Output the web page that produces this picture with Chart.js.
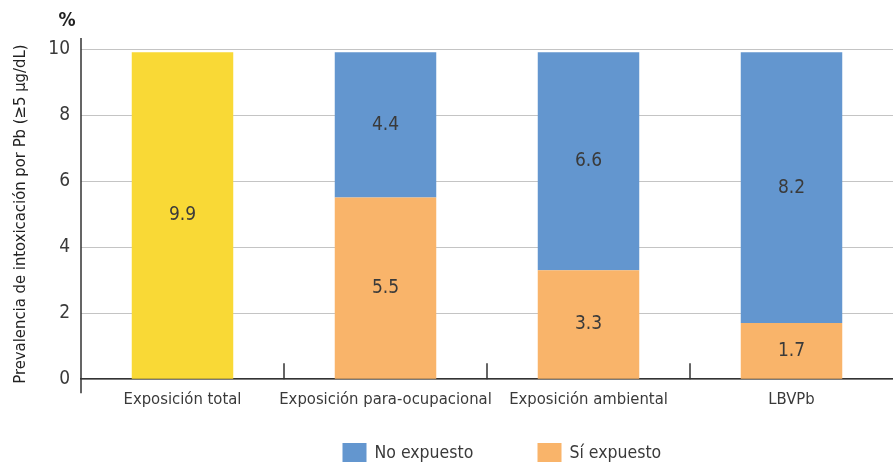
<!DOCTYPE html>
<html>
<head>
<meta charset="utf-8">
<script src="https://cdn.jsdelivr.net/npm/chart.js@4.4.1/dist/chart.umd.min.js"></script>
<style>
  html, body { margin: 0; padding: 0; background: #fff; }
  #wrap { width: 893px; height: 462px; position: relative; }
</style>
</head>
<body>
<div id="wrap"><canvas id="prevChart"></canvas></div>
<script>
// ---- data ----
const categories = ['Exposición total', 'Exposición para-ocupacional', 'Exposición ambiental', 'LBVPb'];
const totalValues = [9.9, null, null, null];
const siExpuesto = [null, 5.5, 3.3, 1.7];
const noExpuesto = [null, 4.4, 6.6, 8.2];
const yTicks = [0, 2, 4, 6, 8, 10];

const FONT = "'DejaVu Sans Condensed', 'Liberation Sans Narrow', sans-serif";
const TXT = '#3a3a3a';

// labels inside each bar segment
const barLabels = {
  id: 'barLabels',
  afterDatasetsDraw(chart) {
    const ctx = chart.ctx;
    ctx.save();
    ctx.font = '19px ' + FONT;
    ctx.fillStyle = TXT;
    ctx.textAlign = 'center';
    ctx.textBaseline = 'middle';
    chart.data.datasets.forEach((ds, i) => {
      const meta = chart.getDatasetMeta(i);
      meta.data.forEach((bar, j) => {
        const v = ds.data[j];
        if (v == null) return;
        const c = bar.getCenterPoint();
        ctx.fillText(v.toFixed(1), c.x, c.y);
      });
    });
    ctx.restore();
  }
};

// y axis line running past the plot, inner ticks between categories, "%", legend
const axisExtras = {
  id: 'axisExtras',
  afterDraw(chart) {
    const ctx = chart.ctx;
    const area = chart.chartArea;
    const xs = chart.scales.x;
    ctx.save();
    ctx.strokeStyle = '#333';
    ctx.lineWidth = 1.5;
    ctx.beginPath();
    ctx.moveTo(area.left, area.top - 11);
    ctx.lineTo(area.left, area.bottom + 14);
    for (let i = 0; i < categories.length - 1; i++) {
      const x = (xs.getPixelForTick(i) + xs.getPixelForTick(i + 1)) / 2;
      ctx.moveTo(x, area.bottom);
      ctx.lineTo(x, area.bottom - 16);
    }
    ctx.stroke();

    ctx.font = 'bold 19px ' + FONT;
    ctx.fillStyle = '#222';
    ctx.textAlign = 'center';
    ctx.textBaseline = 'alphabetic';
    ctx.fillText('%', area.left - 14, 26);

    // legend (No expuesto, Sí expuesto)
    const items = [chart.data.datasets[2], chart.data.datasets[1]];
    const offsets = [-104, 91];
    ctx.font = '17.5px ' + FONT;
    ctx.textBaseline = 'middle';
    ctx.textAlign = 'left';
    const mid = chart.width / 2, y = 443;
    items.forEach((d, k) => {
      const x = mid + offsets[k];
      ctx.fillStyle = d.backgroundColor;
      ctx.fillRect(x, y, 24, 20);
      ctx.fillStyle = TXT;
      ctx.fillText(d.label, x + 32, y + 10);
    });
    ctx.restore();
  }
};

const canvas = document.getElementById('prevChart');
new Chart(canvas.getContext('2d'), {
  type: 'bar',
  data: {
    labels: categories,
    datasets: [
      { label: 'Total', data: totalValues, backgroundColor: '#F9D936' },
      { label: 'Sí expuesto', data: siExpuesto, backgroundColor: '#F9B46A' },
      { label: 'No expuesto', data: noExpuesto, backgroundColor: '#6396CF' }
    ]
  },
  options: {
    responsive: true,
    maintainAspectRatio: false,
    animation: false,
    datasets: { bar: { barPercentage: 0.5, categoryPercentage: 1 } },
    layout: { padding: { top: 49, right: 0, left: 0, bottom: 49 } },
    scales: {
      x: {
        stacked: true,
        grid: { display: false },
        border: { display: true, color: '#333', width: 1.5 },
        ticks: { color: TXT, font: { family: FONT, size: 16.5 }, padding: 3, minRotation: 0, maxRotation: 0, autoSkip: false }
      },
      y: {
        stacked: true,
        min: 0,
        max: 10,
        afterBuildTicks: axis => { axis.ticks = yTicks.map(v => ({ value: v })); },
        afterFit: axis => { axis.width = 81; },
        grid: { color: '#c4c4c4', lineWidth: 1, drawTicks: false },
        border: { display: false },
        ticks: { color: TXT, font: { family: FONT, size: 19 }, padding: 11 },
        title: {
          display: true,
          text: 'Prevalencia de intoxicación por Pb (≥5 µg/dL)',
          color: '#222',
          font: { family: FONT, size: 16.5 },
          padding: { top: 11, bottom: 0 }
        }
      }
    },
    plugins: {
      legend: { display: false },
      tooltip: { enabled: false }
    }
  },
  plugins: [barLabels, axisExtras]
});
</script>
</body>
</html>
